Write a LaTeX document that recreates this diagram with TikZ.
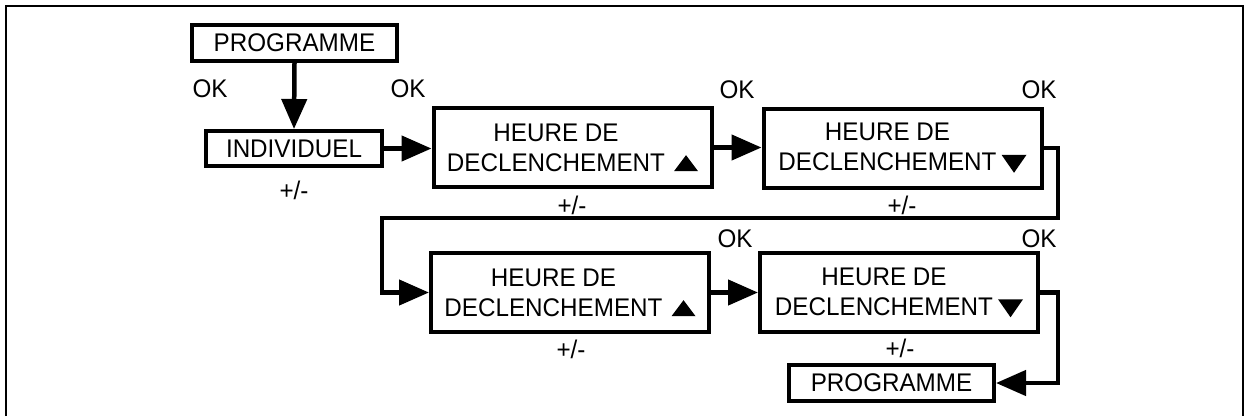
\documentclass[tikz,border=0pt]{standalone}
\usepackage{fontspec}
\setmainfont[FakeStretch=0.95]{Liberation Sans}
\usetikzlibrary{arrows.meta}
\newcommand\uptri{\tikz[x=1pt,y=1pt,baseline=0pt]\fill (0,0) -- (24,0) -- (12,16) -- cycle;}
\newcommand\dntri{\tikz[x=1pt,y=1pt,baseline=0pt]\fill (0,16) -- (25,16) -- (12.5,-2) -- cycle;}
\begin{document}
\begin{tikzpicture}[x=1pt,y=-1pt,
  box/.style={draw,line width=4pt,rectangle,inner sep=0pt,font=\fontsize{25.5}{30}\selectfont},
  hbox/.style={box,minimum width=278pt,minimum height=79pt,align=center},
  pbox/.style={box,minimum width=205pt,minimum height=36pt},
  lbl/.style={inner sep=0pt,anchor=base,font=\fontsize{25.5}{30}\selectfont},
  conn/.style={line width=4.5pt,-{Triangle[length=30pt,width=25pt]}}
]
\useasboundingbox (0,0) rectangle (1244,416);
\draw[line width=2pt] (6,416) -- (6,6) -- (1242.5,6) -- (1242.5,416);

\node[pbox] (P1) at (294.5,43) {PROGRAMME};
\node[box,minimum width=176pt,minimum height=35pt] (IND) at (294,148.5) {INDIVIDUEL};
\node[hbox] (H1) at (572.5,147.5) {HEURE DE\phantom{\hspace{9pt}\uptri}\\DECLENCHEMENT\hspace{9pt}\uptri};
\node[hbox] (H2) at (902.5,148) {HEURE DE\phantom{\hspace{5pt}\dntri}\\DECLENCHEMENT\hspace{5pt}\dntri};
\node[hbox] (H3) at (570,292.5) {HEURE DE\phantom{\hspace{9pt}\uptri}\\DECLENCHEMENT\hspace{9pt}\uptri};
\node[hbox] (H4) at (899,292.5) {HEURE DE\phantom{\hspace{5pt}\dntri}\\DECLENCHEMENT\hspace{5pt}\dntri};
\node[pbox] (P2) at (891.5,383) {PROGRAMME};

\node[lbl] (ok1) at (210,97) {OK};
\node[lbl] (ok2) at (408,97) {OK};
\node[lbl] (ok3) at (737,98) {OK};
\node[lbl] (ok4) at (1039,98) {OK};
\node[lbl] (ok5) at (735,247) {OK};
\node[lbl] (ok6) at (1039,247) {OK};
\node[lbl] (pm1) at (294,199) {+/-};
\node[lbl] (pm2) at (572,214) {+/-};
\node[lbl] (pm3) at (902,214) {+/-};
\node[lbl] (pm4) at (571,358) {+/-};
\node[lbl] (pm5) at (900,357) {+/-};

\coordinate (r1) at (1058,218);
\coordinate (l1) at (382,218);
\coordinate (r2) at (1058,383);

\draw[conn] (P1.south) -- (IND.north);
\draw[conn] (IND.east) -- (IND.east -| H1.west);
\draw[conn] (H1.east) -- (H1.east -| H2.west);
\draw[conn] (H2.east) -| (r1) -- (l1) |- (H3.west);
\draw[conn] (H3.east) -- (H3.east -| H4.west);
\draw[conn] (H4.east) -| (r2) -- (P2.east);
\end{tikzpicture}
\end{document}
